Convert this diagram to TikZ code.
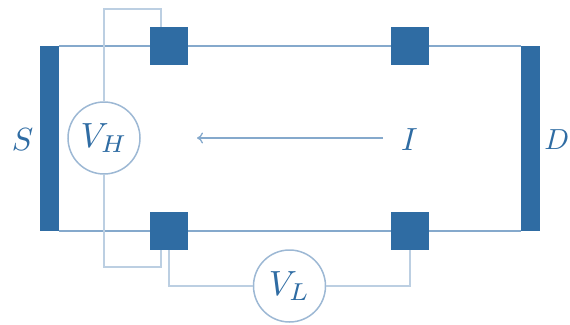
\documentclass[tikz,border=0pt]{standalone}
\usetikzlibrary{arrows.meta}
\usepackage{graphicx}
\newcommand{\hallsym}[1]{\scalebox{3.2}{$#1$}}
\newcommand{\hallmeter}[1]{\scalebox{3.5}{$#1$}}
\definecolor{hallblue}{HTML}{2F6CA3}
\definecolor{wireblue}{HTML}{BCCFE2}
\definecolor{ringblue}{HTML}{9DB8D4}
\definecolor{railblue}{HTML}{85A9CC}
\tikzset{
  bar/.style={fill=hallblue,draw=none,minimum width=19.6pt,minimum height=185pt,inner sep=0pt},
  pad/.style={fill=hallblue,draw=none,minimum width=38.2pt,minimum height=38.2pt,inner sep=0pt},
  meter/.style={circle,draw=ringblue,line width=1.5pt,minimum size=72pt,inner sep=0pt,text=hallblue},
  lab/.style={text=hallblue,inner sep=0pt},
  rail/.style={draw=railblue,line width=1.4pt},
  wire/.style={draw=wireblue,line width=2pt},
  current/.style={draw=railblue,line width=1.3pt,-{To[length=6pt,width=11pt]}}
}
\begin{document}
\begin{tikzpicture}[x=1pt,y=-1pt]
\useasboundingbox (0,0) rectangle (570,324);
\coordinate (tl) at (59,46);
\coordinate (tr) at (521,46);
\coordinate (bl) at (59,231);
\coordinate (br) at (521,231);
\coordinate (ht) at (104,9);
\coordinate (htr) at (160.5,9);
\coordinate (hb) at (104,267);
\coordinate (hbr) at (160.5,267);
\coordinate (lb) at (169,286);
\coordinate (rb) at (410,286);
\coordinate (arrstart) at (383,138);
\coordinate (arrend) at (197,138);
\draw[rail] (tl) -- (tr);
\draw[rail] (bl) -- (br);
\node[meter] (vh) at (104,138) {\hallmeter{V_H}};
\node[meter] (vl) at (289.5,286) {\hallmeter{V_L}};
\draw[wire] (vh.north) -- (ht) -- (htr) -- (160.5,27);
\draw[wire] (vh.south) -- (hb) -- (hbr) -- (160.5,250);
\draw[wire] (169,250) -- (lb) -- (vl.west);
\draw[wire] (vl.east) -- (rb) -- (410,250);
\node[bar] (s) at (49.5,138.5) {};
\node[bar] (d) at (530.4,138.5) {};
\node[pad] (p1) at (169.3,46) {};
\node[pad] (p2) at (409.8,46) {};
\node[pad] (p3) at (169.3,231) {};
\node[pad] (p4) at (409.8,231) {};
\node[lab] (ls) at (22.5,140) {\hallsym{S}};
\node[lab,anchor=east] (ld) at (569.5,140) {\scalebox{2.9}{$D$}};
\node[lab] (li) at (409.5,140) {\hallsym{I}};
\draw[current] (arrstart) -- (arrend);
\end{tikzpicture}
\end{document}
